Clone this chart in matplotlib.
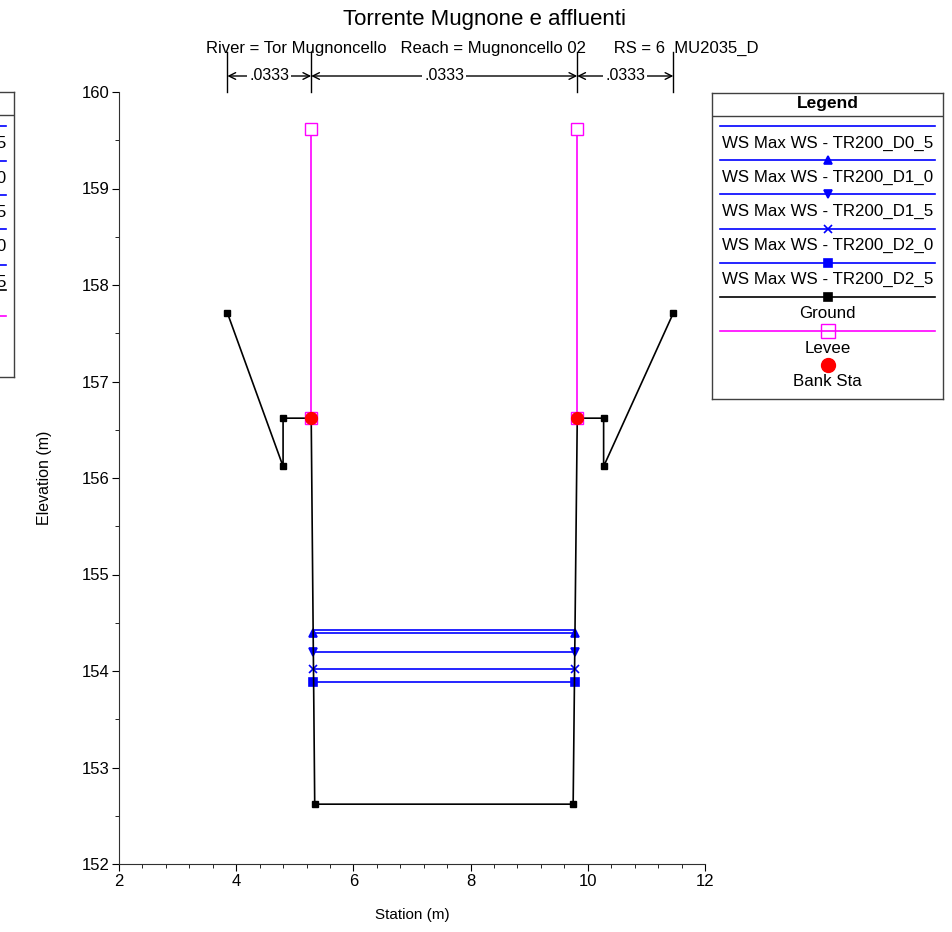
import numpy as np
import matplotlib
matplotlib.use("Agg")
import matplotlib.pyplot as plt
from matplotlib.ticker import MultipleLocator

plt.rcParams['font.family'] = ['Liberation Sans', 'DejaVu Sans']

W, H = 953, 932

# cross-section data
ground_sta  = [3.85, 4.80, 4.80, 5.28, 5.34, 9.75, 9.82, 10.27, 10.27, 11.46]
ground_elev = [157.71, 156.12, 156.62, 156.62, 152.62, 152.62, 156.62, 156.62, 156.12, 157.71]
levee_sta   = [5.28, 9.82]
levee_top   = [159.62, 159.62]
levee_base  = [156.62, 156.62]
bank_sta    = [5.28, 9.82]
bank_elev   = [156.62, 156.62]

ws_labels  = ['WS Max WS - TR200_D0_5', 'WS Max WS - TR200_D1_0', 'WS Max WS - TR200_D1_5',
              'WS Max WS - TR200_D2_0', 'WS Max WS - TR200_D2_5']
ws_elev    = [154.43, 154.39, 154.20, 154.02, 153.89]
ws_sta     = [5.31, 9.78]
ws_markers = ['', '^', 'v', 'x', 's']

n_sta  = [3.85, 5.28, 9.82, 11.46]
n_vals = ['.0333', '.0333', '.0333']

fig = plt.figure(figsize=(W/100, H/100), dpi=100)
ax = fig.add_axes([119/W, 1-864/H, (705-119)/W, (864-92)/H])

# water surfaces
for lab, el, mk in zip(ws_labels, ws_elev, ws_markers):
    ax.plot(ws_sta, [el, el], color='blue', lw=1.2, marker=mk if mk else None,
            ms=6, mew=1.2, zorder=3)

# ground
ax.plot(ground_sta, ground_elev, color='black', lw=1.2, marker='s', ms=5, zorder=4)

# levees
for s, t, b in zip(levee_sta, levee_top, levee_base):
    ax.plot([s, s], [t, b], color='magenta', lw=1.2, marker='s', ms=8,
            mfc='white', mec='magenta', mew=1, zorder=5)

# bank stations
ax.plot(bank_sta, bank_elev, ls='none', marker='o', color='red', ms=8.5, zorder=6)

ax.set_xlim(2, 12)
ax.set_ylim(152, 160)
ax.xaxis.set_major_locator(MultipleLocator(2))
ax.xaxis.set_minor_locator(MultipleLocator(0.4))
ax.yaxis.set_major_locator(MultipleLocator(1))
ax.yaxis.set_minor_locator(MultipleLocator(0.5))
ax.spines['top'].set_visible(False)
ax.spines['right'].set_visible(False)
for sp in ('left', 'bottom'):
    ax.spines[sp].set_color('#303030')
ax.tick_params(which='major', direction='out', length=5, labelsize=12, pad=2)
ax.tick_params(which='minor', direction='out', length=3)
ax.set_xlabel('Station (m)', fontsize=11, labelpad=14)
ax.set_ylabel('Elevation (m)', fontsize=11.5, labelpad=21)

# Manning's n dimension lines above the plot
trans = ax.get_xaxis_transform()
y_top = 1 + (92-52)/772
y_arr = 1 + (92-76)/772
for s in n_sta:
    ax.plot([s, s], [1.0, y_top], transform=trans, color='black', lw=1, clip_on=False)
for i, n in enumerate(n_vals):
    a, b = n_sta[i], n_sta[i+1]
    m = (a + b) / 2
    for end in (a, b):
        ax.annotate('', xy=(end, y_arr), xytext=(m, y_arr), xycoords=trans,
                    textcoords=trans, annotation_clip=False,
                    arrowprops=dict(arrowstyle='->', lw=1, color='black',
                                    shrinkA=0, shrinkB=0, mutation_scale=12))
    ax.text(m, y_arr, n, transform=trans, ha='center', va='center', fontsize=11.5,
            bbox=dict(fc='white', ec='none', pad=1.5), clip_on=False)

fig.text(485/W, 1-20/H, 'Torrente Mugnone e affluenti', ha='center', va='center', fontsize=16)
fig.text(482/W, 1-48/H, 'River = Tor Mugnoncello   Reach = Mugnoncello 02      RS = 6  MU2035_D',
         ha='center', va='center', fontsize=12)

# legend boxes
leg_labels = ws_labels + ['Ground', 'Levee', 'Bank Sta']
leg_colors = ['blue'] * 5 + ['black', 'magenta', 'red']
leg_markers = ws_markers + ['s', 's', 'o']


def draw_legend(left, top, w, h, line_ys, ha='center'):
    lax = fig.add_axes([left/W, 1-(top+h)/H, w/W, h/H])
    lax.set_xlim(0, w)
    lax.set_ylim(h, 0)
    lax.set_xticks([])
    lax.set_yticks([])
    for sp in lax.spines.values():
        sp.set_color('#404040')
        sp.set_linewidth(1)
    lax.text(w/2, 11, 'Legend', ha='center', va='center', fontsize=12.5, fontweight='bold')
    lax.axhline(23, color='#404040', lw=1)
    tx = w/2 if ha == 'center' else w - 8
    for lab, col, mk, y in zip(leg_labels, leg_colors, leg_markers, line_ys):
        if lab == 'Bank Sta':
            lax.plot([w/2], [y], marker='o', color='red', ms=10)
        else:
            lax.plot([8.5, w-8.5], [y, y], color=col, lw=1.2)
            if mk == 's' and lab == 'Levee':
                lax.plot([w/2], [y], marker='s', ms=10, mfc='none', mec=col, mew=1)
            elif mk:
                lax.plot([w/2], [y], marker=mk, ms=6, color=col, mew=1.2)
        tha = ha if lab.startswith('WS') else 'center'
        lax.text(tx if tha != 'center' else w/2, y+17, lab, ha=tha, va='center',
                 fontsize=12.2)


draw_legend(712, 92.5, 231, 306, [33.5, 67.7, 101.9, 136.1, 170.3, 204.5, 238.7, 272.5])
draw_legend(14-231, 92.5, 231, 284, [34, 69, 102.5, 137, 172.5, 197.5, 223.5, 255], ha='right')

fig.savefig('out.png', dpi=100)
